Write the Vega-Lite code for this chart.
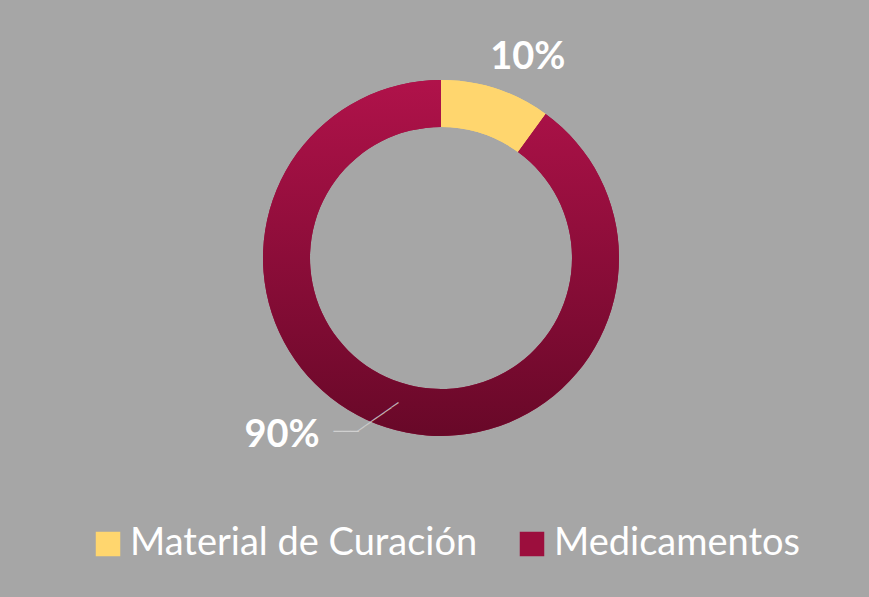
{
  "$schema": "https://vega.github.io/schema/vega-lite/v6.json",
  "width": 870,
  "height": 500,
  "padding": {"left": 6, "top": 8, "right": 0, "bottom": 89},
  "background": "#a6a6a6",
  "view": {"stroke": null},
  "data": {
    "values": [
      {"cat": "Material de Curación", "value": 10, "label": "10%"},
      {"cat": "Medicamentos", "value": 90, "label": "90%"}
    ]
  },
  "layer": [
    {
      "mark": {"type": "arc", "innerRadius": 131, "outerRadius": 178},
      "encoding": {
        "theta": {"field": "value", "type": "quantitative", "stack": true},
        "color": {
          "field": "cat",
          "type": "nominal",
          "scale": {"domain": ["Material de Curación", "Medicamentos"], "range": ["#ffd66e", "#9c0e3d"]},
          "legend": {
            "orient": "none",
            "legendX": 83,
            "legendY": 517,
            "direction": "horizontal",
            "title": null,
            "symbolType": "square",
            "symbolSize": 600,
            "symbolStrokeWidth": 0,
            "labelFont": "Lato",
            "labelFontSize": 38,
            "labelColor": "#ffffff",
            "labelOffset": 3,
            "columnPadding": 35,
            "labelLimit": 500
          }
        }
      }
    },
    {
      "mark": {"type": "arc", "innerRadius": 131, "outerRadius": 178},
      "encoding": {
        "theta": {"field": "value", "type": "quantitative", "stack": true},
        "detail": {"field": "cat", "type": "nominal"},
        "fill": {
          "condition": {
            "test": "datum.cat === 'Medicamentos'",
            "value": {
              "gradient": "linear",
              "x1": 0, "y1": 0, "x2": 0, "y2": 1,
              "stops": [
                {"offset": 0, "color": "#b0124a"},
                {"offset": 1, "color": "#680828"}
              ]
            }
          },
          "value": "#ffd66e"
        }
      }
    },
    {
      "mark": {"type": "text", "radius": 210, "font": "Lato", "fontWeight": "bold", "fontSize": 38, "color": "#ffffff", "align": "center", "baseline": "middle", "dx": 22, "dy": 0},
      "encoding": {
        "theta": {"field": "value", "type": "quantitative", "stack": true},
        "detail": {"field": "cat", "type": "nominal"},
        "text": {"condition": {"test": "datum.cat === 'Material de Curación'", "field": "label"}, "value": ""}
      }
    },
    {
      "mark": {"type": "text", "radius": 210, "font": "Lato", "fontWeight": "bold", "fontSize": 38, "color": "#ffffff", "align": "center", "baseline": "middle", "dx": -94, "dy": -22},
      "encoding": {
        "theta": {"field": "value", "type": "quantitative", "stack": true},
        "detail": {"field": "cat", "type": "nominal"},
        "text": {"condition": {"test": "datum.cat === 'Medicamentos'", "field": "label"}, "value": ""}
      }
    },
    {
      "mark": {"type": "text", "radius": 210, "font": "DejaVu Sans Mono", "fontSize": 14, "color": "#d0d0d0", "align": "center", "baseline": "middle", "dx": -30, "dy": -26},
      "encoding": {
        "theta": {"field": "value", "type": "quantitative", "stack": true},
        "detail": {"field": "cat", "type": "nominal"},
        "text": {"condition": {"test": "datum.cat === 'Medicamentos'", "value": "───"}, "value": ""}
      }
    },
    {
      "mark": {"type": "text", "radius": 210, "font": "DejaVu Sans Mono", "fontSize": 14, "color": "#d0d0d0", "opacity": 0.85, "align": "center", "baseline": "middle", "dx": 24.6, "dy": -31.6, "angle": 325},
      "encoding": {
        "theta": {"field": "value", "type": "quantitative", "stack": true},
        "detail": {"field": "cat", "type": "nominal"},
        "text": {"condition": {"test": "datum.cat === 'Medicamentos'", "value": "──────"}, "value": ""}
      }
    }
  ]
}
